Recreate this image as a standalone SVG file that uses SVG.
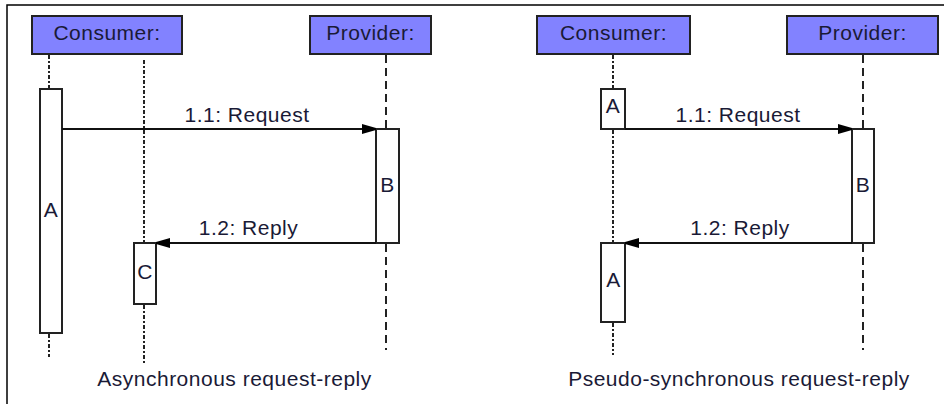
<svg xmlns="http://www.w3.org/2000/svg" width="944" height="404" viewBox="0 0 944 404">
  <defs>
    <marker id="head" viewBox="0 0 14 10" refX="14" refY="5" markerWidth="14" markerHeight="10" markerUnits="userSpaceOnUse" orient="auto">
      <path d="M0,0 L14,4 L14,6 L0,10 Z" fill="#000"/>
    </marker>
    <style>
      text { font-family: "Liberation Sans", Arial, sans-serif; font-size: 21px; letter-spacing: 0.5px; fill: #1a1a36; }
      .mid { text-anchor: middle; }
      .obj rect { fill: #8282ff; stroke: #222; stroke-width: 2; }
      .act rect { fill: #fff; stroke: #222; stroke-width: 2; }
      .life { stroke: #222; stroke-width: 2; fill: none; }
      .dashdot { stroke-dasharray: 4 2 2 2; }
      .dash { stroke-dasharray: 8 5; }
      .msg { stroke: #111; stroke-width: 2; fill: none; marker-end: url(#head); }
    </style>
  </defs>

  <rect width="944" height="404" fill="#fff"/>
  <!-- frame: top and left edges only -->
  <path d="M7,404 V5 H944" fill="none" stroke="#000" stroke-width="1.5"/>

  <!-- lifelines -->
  <g id="lifelines">
    <path class="life dashdot" d="M49,55 V89 M49,334 V357"/>
    <path class="life dashdot" d="M144,60 V243 M144,305 V363"/>
    <path class="life dash" d="M386,55 V129 M386,244 V350"/>
    <path class="life dashdot" d="M613,55 V89 M613,130 V243 M613,323 V355"/>
    <path class="life dash" d="M863,55 V129 M863,244 V350"/>
  </g>

  <!-- asynchronous request-reply -->
  <g id="consumer-async" class="obj">
    <rect x="32" y="16" width="150" height="38"/>
    <text class="mid" x="107" y="40">Consumer:</text>
  </g>
  <g id="provider-async" class="obj">
    <rect x="310" y="16" width="121" height="38"/>
    <text class="mid" x="370.5" y="40">Provider:</text>
  </g>
  <g id="act-a-async" class="act">
    <rect x="40" y="89" width="22" height="244"/>
    <text class="mid" x="51" y="217">A</text>
  </g>
  <g id="act-b-async" class="act">
    <rect x="376" y="129" width="23" height="114"/>
    <text class="mid" x="387.5" y="192">B</text>
  </g>
  <g id="act-c-async" class="act">
    <rect x="134" y="243" width="22" height="61"/>
    <text class="mid" x="145" y="279">C</text>
  </g>

  <!-- pseudo-synchronous request-reply -->
  <g id="consumer-sync" class="obj">
    <rect x="537" y="16" width="153" height="38"/>
    <text class="mid" x="613.5" y="40">Consumer:</text>
  </g>
  <g id="provider-sync" class="obj">
    <rect x="787" y="16" width="151" height="38"/>
    <text class="mid" x="862.5" y="40">Provider:</text>
  </g>
  <g id="act-a1-sync" class="act">
    <rect x="601" y="89" width="24" height="40"/>
    <text class="mid" x="613" y="113">A</text>
  </g>
  <g id="act-b-sync" class="act">
    <rect x="852" y="129" width="22" height="114"/>
    <text class="mid" x="863" y="192">B</text>
  </g>
  <g id="act-a2-sync" class="act">
    <rect x="601" y="243" width="24" height="79"/>
    <text class="mid" x="613.5" y="287">A</text>
  </g>

  <!-- messages -->
  <g id="connectors">
    <path class="msg" d="M62,129 H376"/>
    <path class="msg" d="M376,243 H156"/>
    <path class="msg" d="M625,129 H852"/>
    <path class="msg" d="M852,243 H625"/>
  </g>
  <g id="message-labels">
    <text class="mid" x="247" y="122">1.1: Request</text>
    <text class="mid" x="248.5" y="235">1.2: Reply</text>
    <text class="mid" x="738" y="122">1.1: Request</text>
    <text class="mid" x="740" y="235">1.2: Reply</text>
  </g>

  <!-- captions -->
  <text class="mid" x="234.5" y="386" letter-spacing="0.7">Asynchronous request-reply</text>
  <text class="mid" x="739" y="386" letter-spacing="0.7">Pseudo-synchronous request-reply</text>
</svg>
